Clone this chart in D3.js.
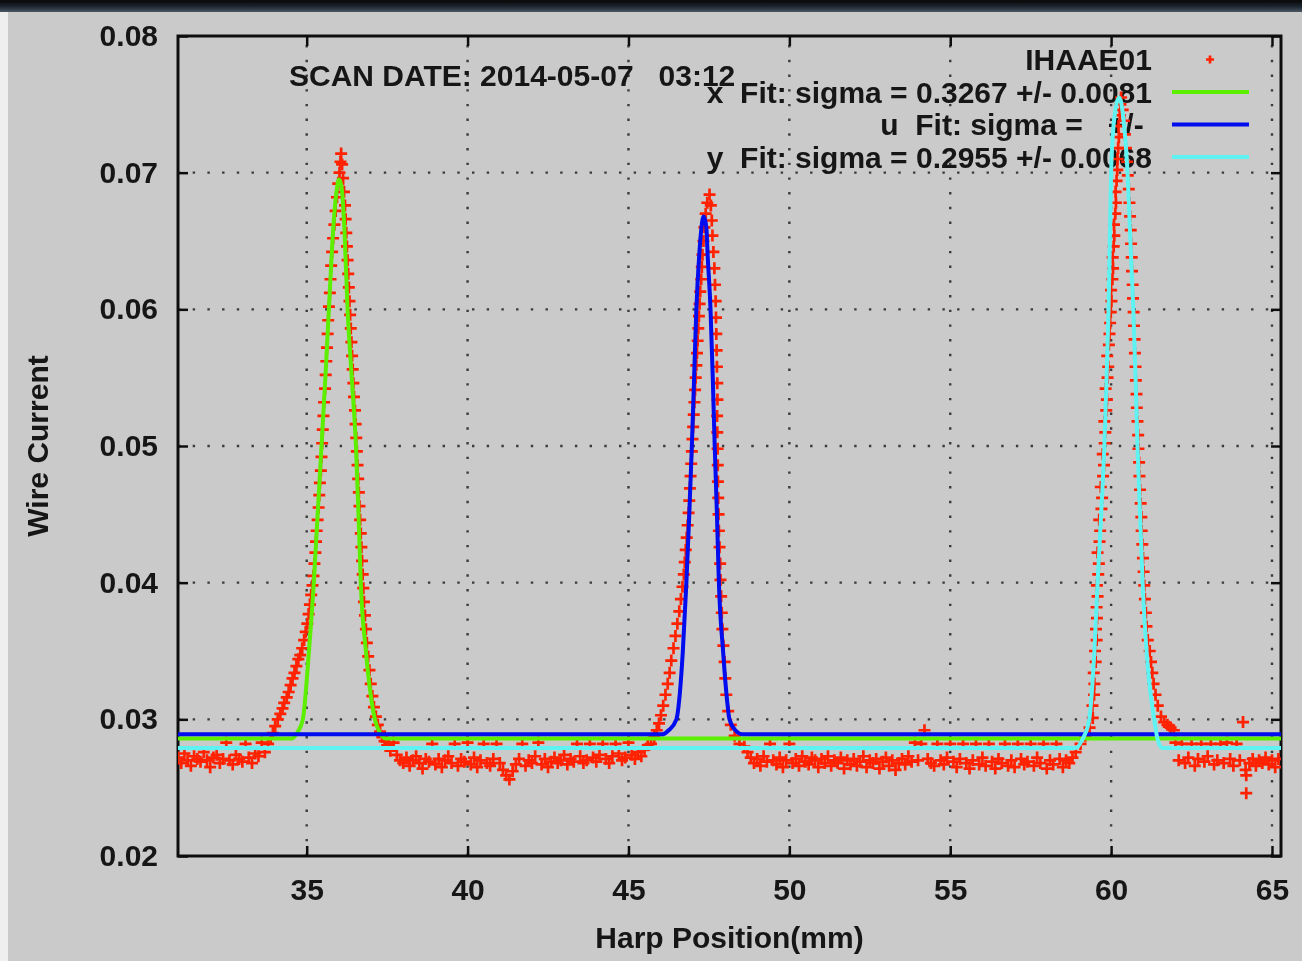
<!DOCTYPE html>
<html lang="en">
<head>
<meta charset="UTF-8">
<title>Harp Scan IHAAE01</title>
<style>
    html, body { margin: 0; padding: 0; background: #cacaca; }
    svg { display: block; }
    text {
        font-family: 'Liberation Sans', Arial, sans-serif;
        font-weight: bold;
        font-size: 30px;
        fill: #161616;
    }
    .tick line { stroke: #111; stroke-width: 2.5px; }
    .grid line { stroke: #3a3a3a; stroke-width: 2.4px; stroke-dasharray: 2.4 12.3; }
    .fit { fill: none; stroke-width: 4px; stroke-linejoin: round; }
    .pt { fill: none; stroke: #ff2200; stroke-width: 2.7px; }
</style>
</head>
<body>
<script src="https://d3js.org/d3.v7.min.js"></script>
<script>

    const width = 1302;
    const height = 961;
    const margin = {left: 178, right: 21, top: 36, bottom: 105};

    // axes and texts
    const xDomain = [31, 65.28];
    const yDomain = [0.02, 0.08];
    const xTicks = [35, 40, 45, 50, 55, 60, 65];
    const yTicks = [0.02, 0.03, 0.04, 0.05, 0.06, 0.07, 0.08];
    const title = 'SCAN DATE: 2014-05-07   03:12';
    const xLabel = 'Harp Position(mm)';
    const yLabel = 'Wire Current';
    const legendLabels = [
        'IHAAE01',
        'x  Fit: sigma = 0.3267 +/- 0.0081',
        'u  Fit: sigma =   +/- ',
        'y  Fit: sigma = 0.2955 +/- 0.0068'
    ];

    // baseline readings, one every 0.1 mm from each start position
    const baseStep = 0.1;
    const baseStarts = [31.0, 37.6, 48.6, 62.0];
    const base1 = [0.0272,0.0268,0.0275,0.0270,0.0266,0.0273,0.0271,0.0269,0.0276,0.0270,0.0265,0.0272,0.0274,0.0268,
        0.0271,0.0283,0.0270,0.0267,0.0274,0.0271,0.0269,0.0282,0.0272,0.0268,0.0275,0.0273,0.0283,0.0276];
    const base2 = [0.0277,0.0283,0.0274,0.0270,0.0268,0.0272,0.0266,0.0270,0.0273,0.0268,0.0264,0.0271,0.0269,0.0282,
        0.0267,0.0271,0.0265,0.0270,0.0273,0.0268,0.0282,0.0266,0.0271,0.0269,0.0283,0.0267,0.0272,0.0265,0.0270,0.0282,
        0.0268,0.0266,0.0271,0.0282,0.0268,0.0263,0.0259,0.0256,0.0262,0.0267,0.0271,0.0282,0.0266,0.0270,0.0268,0.0273,
        0.0283,0.0267,0.0271,0.0265,0.0269,0.0272,0.0268,0.0270,0.0274,0.0267,0.0271,0.0269,0.0282,0.0273,0.0268,0.0270,
        0.0282,0.0272,0.0269,0.0274,0.0282,0.0271,0.0268,0.0273,0.0282,0.0275,0.0270,0.0272,0.0283,0.0274,0.0271,0.0276,
        0.0273,0.0278,0.0281];
    const base3 = [0.0280,0.0276,0.0272,0.0268,0.0271,0.0266,0.0273,0.0269,0.0282,0.0270,0.0267,0.0272,0.0265,0.0270,
        0.0282,0.0268,0.0271,0.0266,0.0273,0.0269,0.0267,0.0272,0.0270,0.0265,0.0271,0.0268,0.0273,0.0266,0.0270,0.0268,
        0.0272,0.0264,0.0270,0.0267,0.0271,0.0266,0.0269,0.0273,0.0265,0.0270,0.0268,0.0271,0.0264,0.0269,0.0272,0.0266,
        0.0270,0.0263,0.0268,0.0271,0.0267,0.0273,0.0269,0.0283,0.0270,0.0282,0.0292,0.0271,0.0268,0.0266,0.0282,0.0270,
        0.0267,0.0272,0.0282,0.0269,0.0265,0.0271,0.0282,0.0268,0.0264,0.0270,0.0282,0.0267,0.0272,0.0266,0.0282,0.0269,
        0.0264,0.0271,0.0268,0.0282,0.0266,0.0270,0.0265,0.0282,0.0271,0.0267,0.0269,0.0282,0.0266,0.0272,0.0268,0.0282,
        0.0264,0.0270,0.0267,0.0282,0.0271,0.0265,0.0270,0.0268,0.0272,0.0276];
    const base4 = [0.0283,0.0270,0.0282,0.0268,0.0272,0.0282,0.0266,0.0271,0.0282,0.0269,0.0273,0.0282,0.0267,0.0270,
        0.0282,0.0268,0.0283,0.0271,0.0266,0.0282,0.0270,0.0298,0.0259,0.0268,0.0271,0.0266,0.0270,0.0268,0.0272,0.0267,
        0.0270,0.0265,0.0271];
    const outliers = [[64.20, 0.0246], [64.18, 0.0263]];

    // readings on the three peaks [position, current]
    const peakX = [[33.80,0.0282],[33.88,0.0286],[33.95,0.0290],[34.02,0.0295],[34.10,0.0300],[34.18,0.0304],[34.25,0.0308],
        [34.30,0.0312],[34.38,0.0316],[34.44,0.0320],[34.50,0.0325],[34.56,0.0330],[34.62,0.0334],[34.68,0.0339],[34.74,0.0344],
        [34.80,0.0347],[34.86,0.0352],[34.92,0.0358],[34.97,0.0364],[35.02,0.0370],[35.06,0.0377],[35.10,0.0384],[35.14,0.0391],
        [35.18,0.0398],[35.21,0.0405],[35.24,0.0414],[35.27,0.0422],[35.29,0.0430],[35.31,0.0438],[35.34,0.0446],[35.37,0.0455],
        [35.39,0.0464],[35.41,0.0473],[35.44,0.0482],[35.46,0.0492],[35.48,0.0502],[35.50,0.0512],[35.52,0.0522],[35.54,0.0532],
        [35.57,0.0542],[35.59,0.0552],[35.61,0.0562],[35.63,0.0572],[35.65,0.0582],[35.67,0.0592],[35.69,0.0602],[35.72,0.0612],
        [35.74,0.0622],[35.76,0.0632],[35.79,0.0642],[35.82,0.0652],[35.86,0.0662],[35.90,0.0672],[35.94,0.0682],[35.98,0.0692],
        [36.02,0.0700],[36.05,0.0708],[36.07,0.0714],[36.10,0.0706],[36.13,0.0696],[36.16,0.0686],[36.19,0.0676],[36.21,0.0666],
        [36.23,0.0656],[36.25,0.0646],[36.27,0.0636],[36.29,0.0626],[36.31,0.0616],[36.33,0.0606],[36.35,0.0596],[36.37,0.0586],
        [36.39,0.0576],[36.41,0.0566],[36.43,0.0556],[36.45,0.0546],[36.47,0.0536],[36.50,0.0526],[36.52,0.0516],[36.54,0.0506],
        [36.56,0.0496],[36.58,0.0486],[36.60,0.0476],[36.62,0.0466],[36.64,0.0456],[36.66,0.0446],[36.68,0.0436],[36.70,0.0426],
        [36.72,0.0416],[36.74,0.0406],[36.76,0.0396],[36.78,0.0386],[36.81,0.0376],[36.84,0.0366],[36.87,0.0356],[36.91,0.0346],
        [36.95,0.0336],[36.99,0.0326],[37.04,0.0317],[37.09,0.0309],[37.15,0.0302],[37.21,0.0296],[37.28,0.0291],[37.35,0.0287],
        [37.42,0.0284],[37.50,0.0281]];
    const peakU = [[45.70,0.0282],[45.80,0.0287],[45.88,0.0292],[45.95,0.0297],[46.01,0.0303],[46.08,0.0310],[46.15,0.0318],
        [46.22,0.0326],[46.28,0.0334],[46.33,0.0343],[46.40,0.0352],[46.46,0.0361],[46.52,0.0370],[46.58,0.0379],[46.63,0.0388],
        [46.68,0.0397],[46.72,0.0406],[46.75,0.0415],[46.78,0.0424],[46.81,0.0433],[46.84,0.0442],[46.87,0.0451],[46.89,0.0460],
        [46.91,0.0469],[46.93,0.0478],[46.95,0.0487],[46.97,0.0496],[46.99,0.0505],[47.01,0.0514],[47.03,0.0523],[47.05,0.0532],
        [47.07,0.0541],[47.09,0.0550],[47.11,0.0559],[47.13,0.0568],[47.15,0.0577],[47.17,0.0586],[47.19,0.0595],[47.21,0.0604],
        [47.23,0.0613],[47.26,0.0622],[47.28,0.0631],[47.30,0.0640],[47.33,0.0650],[47.36,0.0660],[47.40,0.0670],[47.45,0.0678],
        [47.52,0.0684],[47.56,0.0676],[47.59,0.0665],[47.61,0.0654],[47.64,0.0642],[47.67,0.0630],[47.69,0.0618],[47.71,0.0606],
        [47.72,0.0594],[47.73,0.0582],[47.74,0.0570],[47.75,0.0558],[47.76,0.0546],[47.765,0.0534],[47.755,0.0522],[47.76,0.0510],
        [47.77,0.0498],[47.775,0.0486],[47.78,0.0474],[47.79,0.0462],[47.80,0.0450],[47.81,0.0438],[47.83,0.0426],[47.85,0.0414],
        [47.86,0.0402],[47.88,0.0390],[47.90,0.0378],[47.92,0.0366],[47.95,0.0354],[47.99,0.0342],[48.01,0.0330],[48.04,0.0318],
        [48.10,0.0306],[48.18,0.0296],[48.30,0.0288],[48.45,0.0282]];
    const peakY = [[59.05,0.0282],[59.20,0.0288],[59.33,0.0294],[59.43,0.0301],[59.42,0.0310],[59.47,0.0318],[59.48,0.0326],
        [59.46,0.0334],[59.52,0.0342],[59.50,0.0350],[59.55,0.0358],[59.53,0.0366],[59.56,0.0374],[59.55,0.0382],[59.58,0.0390],
        [59.56,0.0398],[59.60,0.0406],[59.62,0.0414],[59.58,0.0422],[59.64,0.0430],[59.66,0.0438],[59.63,0.0446],[59.70,0.0454],
        [59.72,0.0462],[59.68,0.0470],[59.75,0.0478],[59.78,0.0486],[59.74,0.0494],[59.80,0.0502],[59.82,0.0510],[59.79,0.0518],
        [59.85,0.0526],[59.87,0.0534],[59.83,0.0542],[59.89,0.0550],[59.91,0.0558],[59.88,0.0566],[59.93,0.0574],[59.95,0.0582],
        [59.97,0.0590],[59.99,0.0598],[60.01,0.0606],[60.00,0.0614],[60.04,0.0622],[60.06,0.0630],[60.05,0.0638],[60.08,0.0646],
        [60.10,0.0654],[60.09,0.0662],[60.13,0.0670],[60.15,0.0678],[60.14,0.0686],[60.17,0.0694],[60.19,0.0702],[60.20,0.0710],
        [60.22,0.0718],[60.24,0.0726],[60.23,0.0734],[60.27,0.0742],[60.29,0.0750],[60.31,0.0755],[60.36,0.0746],[60.40,0.0738],
        [60.43,0.0728],[60.46,0.0718],[60.50,0.0708],[60.52,0.0698],[60.55,0.0688],[60.57,0.0678],[60.59,0.0668],[60.61,0.0658],
        [60.62,0.0648],[60.64,0.0638],[60.65,0.0628],[60.67,0.0618],[60.68,0.0608],[60.70,0.0598],[60.71,0.0588],[60.73,0.0578],
        [60.74,0.0568],[60.76,0.0558],[60.77,0.0548],[60.79,0.0538],[60.80,0.0528],[60.82,0.0518],[60.84,0.0508],[60.85,0.0498],
        [60.87,0.0488],[60.88,0.0478],[60.90,0.0468],[60.92,0.0458],[60.94,0.0448],[60.95,0.0438],[60.97,0.0428],[60.99,0.0418],
        [61.01,0.0408],[61.03,0.0398],[61.05,0.0388],[61.08,0.0378],[61.10,0.0368],[61.14,0.0358],[61.20,0.0350],[61.24,0.0342],
        [61.28,0.0334],[61.32,0.0326],[61.38,0.0318],[61.45,0.0310],[61.55,0.0302],[61.65,0.0298],[61.75,0.0296],[61.85,0.0294],
        [61.95,0.0292]];

    // fitted curves [position, current]
    const fitX = [[31.0,0.0286],[34.55,0.0286],[34.70,0.0290],[34.88,0.0300],[35.07,0.0350],[35.22,0.0400],[35.34,0.0450],
        [35.46,0.0500],[35.58,0.0550],[35.69,0.0600],[35.80,0.0650],[35.92,0.0685],[36.00,0.0695],[36.08,0.0690],[36.17,0.0660],
        [36.27,0.0600],[36.40,0.0550],[36.53,0.0500],[36.61,0.0450],[36.68,0.0400],[36.84,0.0350],[37.12,0.0300],[37.28,0.0290],
        [37.45,0.0286],[65.28,0.0286]];
    const fitU = [[31.0,0.0289],[46.05,0.0289],[46.25,0.0292],[46.49,0.0300],[46.60,0.0320],[46.69,0.0350],[46.80,0.0400],
        [46.89,0.0450],[46.97,0.0500],[47.04,0.0550],[47.11,0.0600],[47.20,0.0640],[47.34,0.0668],[47.42,0.0660],[47.46,0.0640],
        [47.55,0.0600],[47.62,0.0550],[47.68,0.0500],[47.75,0.0450],[47.81,0.0400],[47.94,0.0350],[48.04,0.0320],[48.14,0.0300],
        [48.32,0.0292],[48.55,0.0289],[65.28,0.0289]];
    const fitY = [[31.0,0.0279],[58.90,0.0279],[59.10,0.0285],[59.32,0.0300],[59.48,0.0350],[59.58,0.0400],[59.69,0.0450],
        [59.79,0.0500],[59.86,0.0550],[59.92,0.0600],[59.96,0.0650],[60.00,0.0700],[60.10,0.0740],[60.25,0.0755],[60.38,0.0740],
        [60.51,0.0700],[60.60,0.0650],[60.69,0.0600],[60.76,0.0550],[60.82,0.0500],[60.90,0.0450],[60.98,0.0400],[61.10,0.0350],
        [61.34,0.0300],[61.45,0.0285],[61.60,0.0279],[65.28,0.0279]];

    const pointColour = '#ff2200';
    const fitColours = ['#5cef00', '#0008ee', '#5ff2f2'];

    // ---------------------------------------------------------------

    const innerW = width - margin.left - margin.right;
    const innerH = height - margin.top - margin.bottom;

    const x = d3.scaleLinear().domain(xDomain).range([margin.left, margin.left + innerW]);
    const y = d3.scaleLinear().domain(yDomain).range([margin.top + innerH, margin.top]);

    let svg = d3.select('body').append('svg')
        .attr('width', width)
        .attr('height', height);

    let defs = svg.append('defs');
    defs.append('filter').attr('id', 'soft')
        .append('feGaussianBlur').attr('stdDeviation', 0.7);
    defs.append('clipPath').attr('id', 'plotClip')
        .append('rect')
        .attr('x', margin.left).attr('y', margin.top)
        .attr('width', innerW).attr('height', innerH);
    let grad = defs.append('linearGradient').attr('id', 'topBand')
        .attr('x1', 0).attr('y1', 0).attr('x2', 0).attr('y2', 1);
    grad.append('stop').attr('offset', '0%').attr('stop-color', '#050505');
    grad.append('stop').attr('offset', '55%').attr('stop-color', '#1d2530');
    grad.append('stop').attr('offset', '100%').attr('stop-color', '#4a5662');

    let root = svg.append('g').attr('filter', 'url(#soft)');

    root.append('rect').attr('width', width).attr('height', height).style('fill', '#cacaca');
    root.append('rect').attr('width', width).attr('height', 12).style('fill', 'url(#topBand)');
    root.append('rect').attr('y', 12).attr('width', 8).attr('height', height - 12).style('fill', '#efefef');

    // dotted grid
    let grid = root.append('g').attr('class', 'grid');
    grid.selectAll('.gx').data(xTicks).enter().append('line')
        .attr('x1', d => x(d)).attr('x2', d => x(d))
        .attr('y1', y(yDomain[0])).attr('y2', y(yDomain[1]));
    grid.selectAll('.gy').data(yTicks.slice(1, -1)).enter().append('line')
        .attr('x1', x(xDomain[0])).attr('x2', x(xDomain[1]))
        .attr('y1', d => y(d)).attr('y2', d => y(d));

    // ticks on all four sides, pointing inward
    root.append('g')
        .attr('transform', 'translate(0,' + y(yDomain[0]) + ')')
        .call(d3.axisBottom(x).tickValues(xTicks).tickSize(-10).tickPadding(23).tickFormat(d3.format('d')));
    root.append('g')
        .attr('transform', 'translate(0,' + y(yDomain[1]) + ')')
        .call(d3.axisTop(x).tickValues(xTicks).tickSize(-10).tickFormat(''));
    root.append('g')
        .attr('transform', 'translate(' + x(xDomain[0]) + ',0)')
        .call(d3.axisLeft(y).tickValues(yTicks).tickSize(-10).tickPadding(20).tickFormat(d3.format('.2f')));
    root.append('g')
        .attr('transform', 'translate(' + x(xDomain[1]) + ',0)')
        .call(d3.axisRight(y).tickValues(yTicks).tickSize(-10).tickFormat(''));

    root.selectAll('.domain').remove();
    root.selectAll('.tick text')
        .attr('font-family', null).attr('font-size', null).attr('fill', null);

    root.append('rect')
        .attr('x', margin.left).attr('y', margin.top)
        .attr('width', innerW).attr('height', innerH)
        .style('fill', 'none').style('stroke', '#111').style('stroke-width', 3);

    // axis titles
    root.append('text')
        .attr('x', margin.left + innerW / 2)
        .attr('y', 948)
        .attr('text-anchor', 'middle')
        .text(xLabel);
    root.append('text')
        .attr('transform', 'translate(48,' + (margin.top + innerH / 2) + ') rotate(-90)')
        .attr('text-anchor', 'middle')
        .text(yLabel);

    // scan date
    root.append('text')
        .attr('x', 289)
        .attr('y', 86)
        .style('white-space', 'pre')
        .text(title);

    // legend
    const legendRight = 1152;
    const legendY = i => 59.5 + i * 32.5;
    let legend = root.append('g');
    legend.selectAll('text').data(legendLabels).enter().append('text')
        .attr('x', legendRight)
        .attr('y', (d, i) => legendY(i) + 10.5)
        .attr('text-anchor', 'end')
        .style('white-space', 'pre')
        .text(d => d);
    legend.append('path')
        .attr('class', 'pt')
        .attr('transform', 'translate(1210,' + legendY(0) + ')')
        .attr('d', 'M-4,0H4M0,-4V4')
        .style('stroke', pointColour);
    legend.selectAll('line').data(fitColours).enter().append('line')
        .attr('x1', 1172).attr('x2', 1249)
        .attr('y1', (d, i) => legendY(i + 1))
        .attr('y2', (d, i) => legendY(i + 1))
        .style('stroke', d => d)
        .style('stroke-width', 4);

    // data
    let baseSets = [base1, base2, base3, base4];
    let points = [];
    baseSets.forEach(function (vals, k) {
        vals.forEach(function (v, i) {
            points.push([baseStarts[k] + i * baseStep, v]);
        });
    });
    points = points.concat(peakX, peakU, peakY, outliers);

    let plot = root.append('g').attr('clip-path', 'url(#plotClip)');

    plot.selectAll('.pt').data(points).enter().append('path')
        .attr('class', 'pt')
        .attr('transform', d => 'translate(' + x(d[0]) + ',' + y(d[1]) + ')')
        .attr('d', 'M-6,0H6M0,-6V6')
        .style('stroke', pointColour);

    let line = d3.line()
        .curve(d3.curveMonotoneX)
        .x(d => x(d[0]))
        .y(d => y(d[1]));

    [fitX, fitU, fitY].forEach(function (fit, i) {
        plot.append('path')
            .datum(fit)
            .attr('class', 'fit')
            .style('stroke', fitColours[i])
            .attr('d', line);
    });

</script>
</body>
</html>
